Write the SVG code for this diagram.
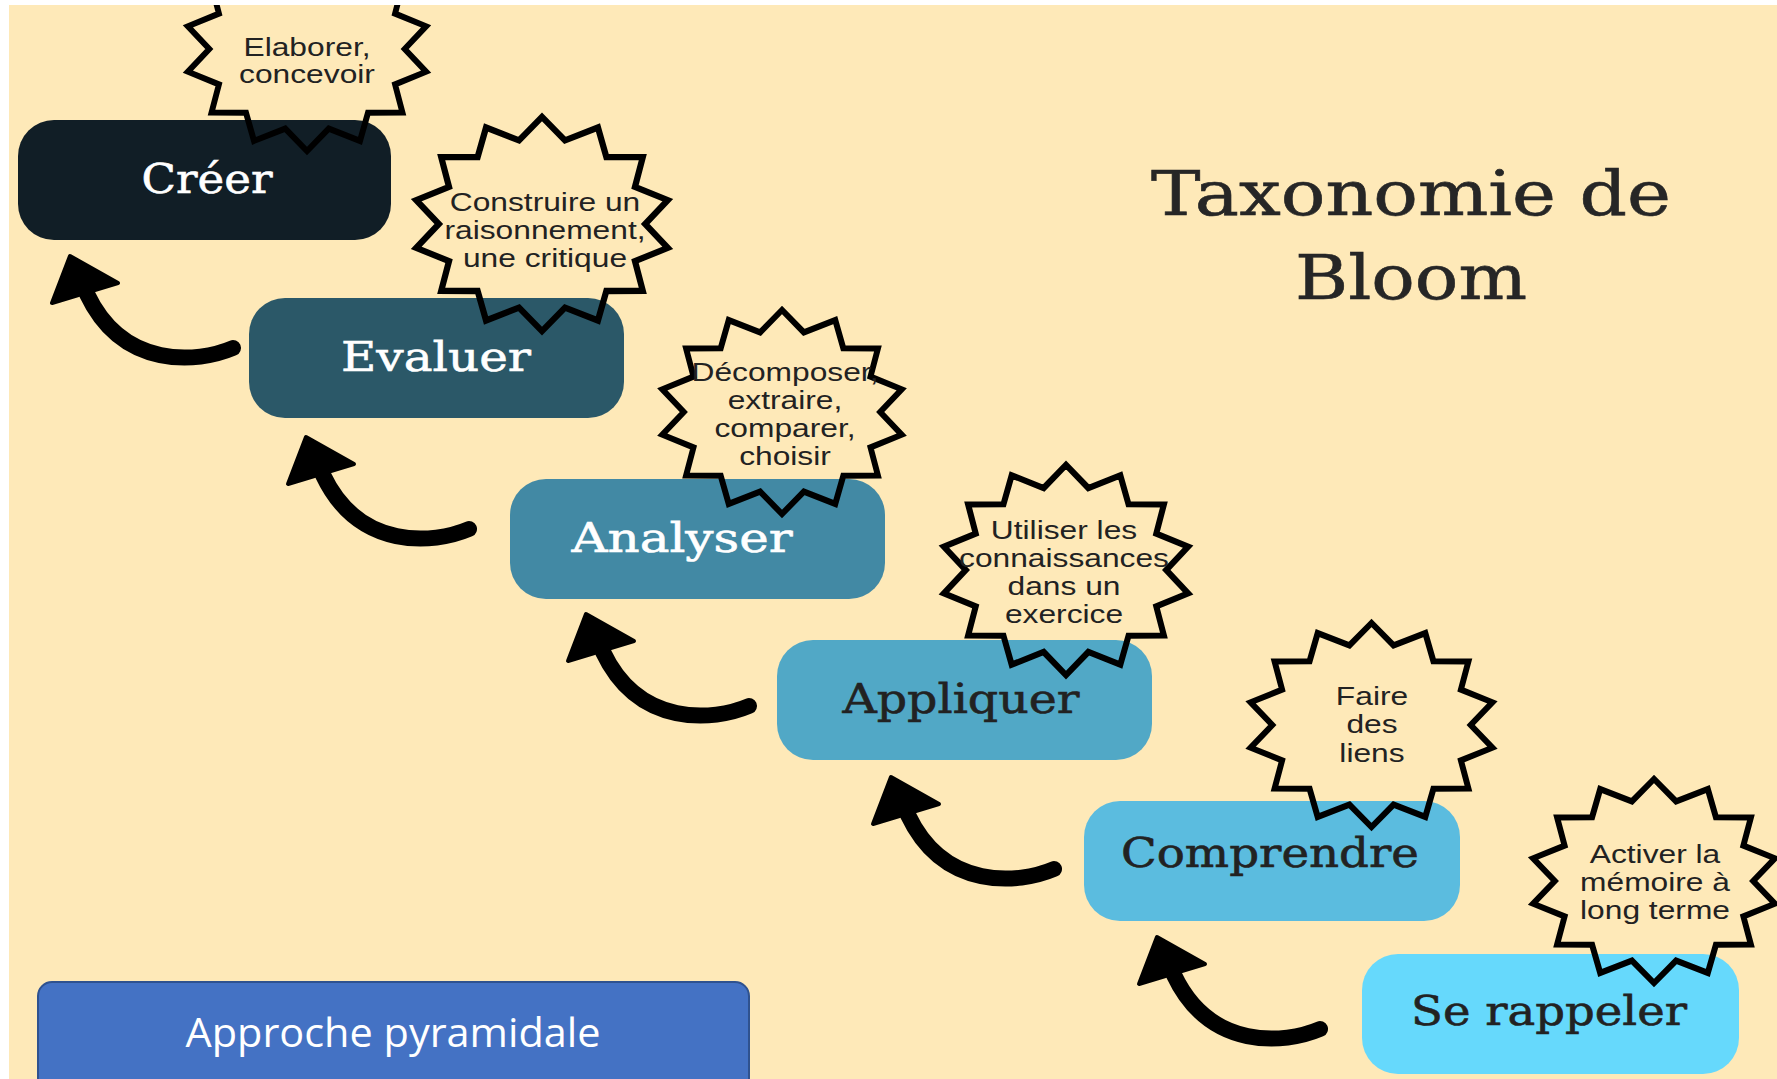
<svg xmlns="http://www.w3.org/2000/svg" xmlns:xlink="http://www.w3.org/1999/xlink" width="1777" height="1079" viewBox="0 0 1777 1079">
<style>
.lbl{font-family:"DejaVu Serif","Liberation Serif",serif;font-size:41px;text-anchor:middle;stroke-width:0.6px}
.title{font-family:"DejaVu Serif","Liberation Serif",serif;font-size:62px;text-anchor:middle;fill:#262626;stroke:#262626;stroke-width:0.6px}
.st{font-family:"Liberation Sans",Arial,sans-serif;font-size:25px;text-anchor:middle;fill:#222}
.star{fill:none;stroke:#000;stroke-width:6;stroke-linejoin:miter;vector-effect:non-scaling-stroke}
.arr path{fill:none;stroke:#000;stroke-width:16;stroke-linecap:round}
.arr polygon{fill:#000;stroke:#000;stroke-width:4;stroke-linejoin:round}
</style>
<defs>
<polygon id="starShape" points="0,-102 -22.1,-79.6 -53.8,-91.9 -61.9,-63.8 -96.9,-63.6 -89.4,-35.4 -120.9,-22.7 -99.2,0 -120.9,22.7 -89.4,35.4 -96.9,63.6 -61.9,63.8 -53.8,91.9 -22.1,79.6 0,102 22.1,79.6 53.8,91.9 61.9,63.8 96.9,63.6 89.4,35.4 120.9,22.7 99.2,0 120.9,-22.7 89.4,-35.4 96.9,-63.6 61.9,-63.8 53.8,-91.9 22.1,-79.6"/>
<g id="arrowShape" class="arr">
<path d="M 0 0 C -35 15 -110 22 -146 -54"/>
<polygon points="-163,-92 -181,-45 -115,-65"/>
</g>
</defs>
<rect x="0" y="0" width="1777" height="1079" fill="#ffffff"/>
<rect x="9" y="5" width="1768" height="1074" fill="#FEE9B8"/>

<g id="title">
<text class="title" x="1411" y="215" textLength="520" lengthAdjust="spacingAndGlyphs">Taxonomie de</text>
<text class="title" x="1411" y="299" textLength="232" lengthAdjust="spacingAndGlyphs">Bloom</text>
</g>

<g id="connectors">
<use xlink:href="#arrowShape" transform="translate(233,348)"/>
<use xlink:href="#arrowShape" transform="translate(469,529)"/>
<use xlink:href="#arrowShape" transform="translate(749,706)"/>
<use xlink:href="#arrowShape" transform="translate(1054,869)"/>
<use xlink:href="#arrowShape" transform="translate(1320,1029)"/>
</g>

<g id="node-creer">
<rect x="18" y="120" width="373" height="120" rx="36" fill="#111E26"/>
<text class="lbl" x="207" y="193" fill="#ffffff" stroke="#ffffff" textLength="131" lengthAdjust="spacingAndGlyphs">Créer</text>
</g>
<g id="node-evaluer">
<rect x="249" y="298" width="375" height="120" rx="36" fill="#2B5868"/>
<text class="lbl" x="436" y="371" fill="#ffffff" stroke="#ffffff" textLength="190" lengthAdjust="spacingAndGlyphs">Evaluer</text>
</g>
<g id="node-analyser">
<rect x="510" y="479" width="375" height="120" rx="36" fill="#4289A4"/>
<text class="lbl" x="682" y="552" fill="#ffffff" stroke="#ffffff" textLength="221" lengthAdjust="spacingAndGlyphs">Analyser</text>
</g>
<g id="node-appliquer">
<rect x="777" y="640" width="375" height="120" rx="36" fill="#51A8C6"/>
<text class="lbl" x="961" y="713" fill="#222222" stroke="#222222" textLength="237" lengthAdjust="spacingAndGlyphs">Appliquer</text>
</g>
<g id="node-comprendre">
<rect x="1084" y="801" width="376" height="120" rx="36" fill="#5BBCDF"/>
<text class="lbl" x="1270" y="867" fill="#222222" stroke="#222222" textLength="298" lengthAdjust="spacingAndGlyphs">Comprendre</text>
</g>
<g id="node-serappeler">
<rect x="1362" y="954" width="377" height="120" rx="36" fill="#66D9FC"/>
<text class="lbl" x="1549" y="1025" fill="#222222" stroke="#222222" textLength="276" lengthAdjust="spacingAndGlyphs">Se rappeler</text>
</g>

<g id="star-elaborer">
<use xlink:href="#starShape" class="star" transform="translate(307,49) scale(0.985,1)"/>
<g transform="translate(307,0) scale(1.27,1)">
<text class="st" x="0" y="56">Elaborer,</text>
<text class="st" x="0" y="83">concevoir</text>
</g>
</g>
<g id="star-construire">
<use xlink:href="#starShape" class="star" transform="translate(542,224) scale(1.04,1.05)"/>
<g transform="translate(545,0) scale(1.27,1)">
<text class="st" x="0" y="211">Construire un</text>
<text class="st" x="0" y="239">raisonnement,</text>
<text class="st" x="0" y="267">une critique</text>
</g>
</g>
<g id="star-decomposer">
<use xlink:href="#starShape" class="star" transform="translate(782,412) scale(0.99,1)"/>
<g transform="translate(785,0) scale(1.27,1)">
<text class="st" x="0" y="381">Décomposer,</text>
<text class="st" x="0" y="409">extraire,</text>
<text class="st" x="0" y="437">comparer,</text>
<text class="st" x="0" y="465">choisir</text>
</g>
</g>
<g id="star-utiliser">
<use xlink:href="#starShape" class="star" transform="translate(1066,570) scale(1.01,1.03)"/>
<g transform="translate(1064,0) scale(1.27,1)">
<text class="st" x="0" y="539">Utiliser les</text>
<text class="st" x="0" y="567">connaissances</text>
<text class="st" x="0" y="595">dans un</text>
<text class="st" x="0" y="623">exercice</text>
</g>
</g>
<g id="star-faire">
<use xlink:href="#starShape" class="star" transform="translate(1371.5,725)"/>
<g transform="translate(1372,0) scale(1.27,1)">
<text class="st" x="0" y="705">Faire</text>
<text class="st" x="0" y="733">des</text>
<text class="st" x="0" y="762">liens</text>
</g>
</g>
<g id="star-activer">
<use xlink:href="#starShape" class="star" transform="translate(1654,881)"/>
<g transform="translate(1655,0) scale(1.27,1)">
<text class="st" x="0" y="863">Activer la</text>
<text class="st" x="0" y="891">mémoire à</text>
<text class="st" x="0" y="919">long terme</text>
</g>
</g>

<g id="node-approche">
<rect x="38" y="982" width="711" height="112" rx="14" fill="#4472C4" stroke="#2F528F" stroke-width="2"/>
<text x="393" y="1047" fill="#ffffff" font-family="'Open Sans','Liberation Sans',sans-serif" font-size="40" text-anchor="middle" textLength="415" lengthAdjust="spacingAndGlyphs">Approche pyramidale</text>
</g>

<rect x="0" y="0" width="1777" height="5" fill="#ffffff"/>
</svg>
